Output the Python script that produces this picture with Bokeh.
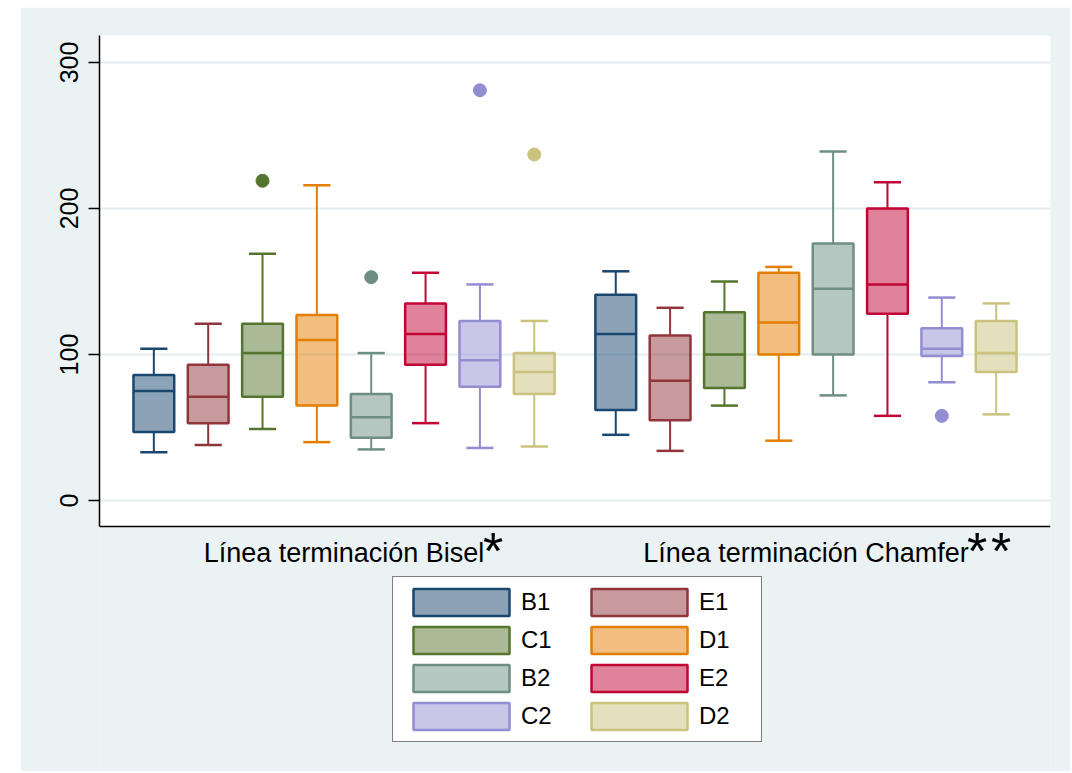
from bokeh.plotting import figure
from bokeh.models import (ColumnDataSource, FixedTicker, LinearAxis, Legend, LegendItem,
                          Label, Range1d, Spacer, Span, BoxAnnotation, Grid)
from bokeh.layouts import row, column
from bokeh.embed import file_html
from bokeh.resources import INLINE

# ---------------- data ----------------
groups = ["Línea terminación Bisel", "Línea terminación Chamfer"]
group_marks = [["*"], ["*", "*"]]
series = ["B1", "E1", "C1", "D1", "B2", "E2", "C2", "D2"]
line_colors = ["#1a476f", "#90353b", "#55752f", "#e37e00",
               "#6e8e84", "#c10534", "#938dd2", "#cac27e"]

# per series: [Bisel, Chamfer]
w_low = {"B1": [33, 45], "E1": [38, 34], "C1": [49, 65], "D1": [40, 41],
         "B2": [35, 72], "E2": [53, 58], "C2": [36, 81], "D2": [37, 59]}
q1 = {"B1": [47, 62], "E1": [53, 55], "C1": [71, 77], "D1": [65, 100],
      "B2": [43, 100], "E2": [93, 128], "C2": [78, 99], "D2": [73, 88]}
med = {"B1": [75, 114], "E1": [71, 82], "C1": [101, 100], "D1": [110, 122],
       "B2": [57, 145], "E2": [114, 148], "C2": [96, 104], "D2": [88, 101]}
q3 = {"B1": [86, 141], "E1": [93, 113], "C1": [121, 129], "D1": [127, 156],
      "B2": [73, 176], "E2": [135, 200], "C2": [123, 118], "D2": [101, 123]}
w_high = {"B1": [104, 157], "E1": [121, 132], "C1": [169, 150], "D1": [216, 160],
          "B2": [101, 239], "E2": [156, 218], "C2": [148, 139], "D2": [123, 135]}
# outliers: (series, group index, value)
out_series = ["C1", "B2", "C2", "D2", "C2"]
out_group = [0, 0, 0, 0, 1]
out_value = [219, 153, 281, 237, 58]

y_ticks = [0, 100, 200, 300]

# ---------------- layout ----------------
group_offset = [0.0, 8.5]
box_w = 0.75
cap_w = 0.5
Y_TOP = 318.5
Y_AXIS_BOTTOM = -17.8
Y_CANVAS_BOTTOM = -185.6

BG = "#eaf2f3"
FONT = "Liberation Sans"

p = figure(width=1050, height=764, output_backend="svg", toolbar_location=None,
           x_range=Range1d(0, 17.5), y_range=Range1d(Y_CANVAS_BOTTOM, Y_TOP),
           min_border_left=79, min_border_right=20, min_border_top=28, min_border_bottom=0,
           x_axis_location=None, y_axis_location=None)
p.border_fill_color = BG
p.background_fill_color = BG
p.outline_line_color = None
p.xgrid.visible = False
p.ygrid.visible = False

# white plot region above the x axis line
p.add_layout(BoxAnnotation(bottom=Y_AXIS_BOTTOM, fill_color="white", fill_alpha=1,
                           line_color=None, level="underlay"))

p.add_layout(Grid(dimension=1, ticker=FixedTicker(ticks=y_ticks),
                  grid_line_color="#e3edef", grid_line_width=2))

yaxis = LinearAxis(ticker=FixedTicker(ticks=y_ticks), bounds=(Y_AXIS_BOTTOM, Y_TOP))
yaxis.major_label_orientation = "vertical"
yaxis.major_label_text_font = FONT
yaxis.major_label_text_font_size = "25px"
yaxis.major_label_text_color = "black"
yaxis.major_label_standoff = 10
yaxis.major_tick_out = 11
yaxis.major_tick_in = 0
yaxis.major_tick_line_color = "black"
yaxis.major_tick_line_width = 1.5
yaxis.minor_tick_line_color = None
yaxis.axis_line_color = "black"
yaxis.axis_line_width = 1.5
p.add_layout(yaxis, "left")

# x axis line
p.add_layout(Span(location=Y_AXIS_BOTTOM, dimension="width", line_color="black",
                  line_width=1.5))

legend_items = []
for i, s in enumerate(series):
    col = line_colors[i]
    xs = [i + 1 + group_offset[g] for g in range(2)]
    src = ColumnDataSource(dict(
        x=xs, q1=q1[s], q3=q3[s], med=med[s], lo=w_low[s], hi=w_high[s],
        x0=[x - box_w / 2 for x in xs], x1=[x + box_w / 2 for x in xs],
        c0=[x - cap_w / 2 for x in xs], c1=[x + cap_w / 2 for x in xs]))
    p.segment(x0="x", y0="q3", x1="x", y1="hi", source=src, line_color=col, line_width=2)
    p.segment(x0="x", y0="q1", x1="x", y1="lo", source=src, line_color=col, line_width=2)
    p.segment(x0="c0", y0="hi", x1="c1", y1="hi", source=src, line_color=col, line_width=2.5)
    p.segment(x0="c0", y0="lo", x1="c1", y1="lo", source=src, line_color=col, line_width=2.5)
    r = p.vbar(x="x", width=box_w, top="q3", bottom="q1", source=src,
               fill_color=col, fill_alpha=0.5, line_color=col, line_width=2.5)
    p.segment(x0="x0", y0="med", x1="x1", y1="med", source=src, line_color=col, line_width=2.5)
    legend_items.append(LegendItem(label=s, renderers=[r]))

# outliers
ox = [series.index(s) + 1 + group_offset[g] for s, g in zip(out_series, out_group)]
oc = [line_colors[series.index(s)] for s in out_series]
p.scatter(x=ox, y=out_value, size=13, fill_color=oc, line_color=oc, marker="circle")

# group labels (below the axis) with superscript marks
centers = [4.5, 13.0]
label_y = -35.7
mark_offsets = [[139], [161, 185]]
for c, g, marks, offs in zip(centers, groups, group_marks, mark_offsets):
    p.add_layout(Label(x=c, y=label_y, text=g, text_font=FONT, text_font_size="27px",
                       text_color="black", text_align="center", text_baseline="alphabetic"))
    for m, off in zip(marks, offs):
        p.add_layout(Label(x=c, y=label_y, x_offset=off, y_offset=2, text=m,
                           text_font=FONT, text_font_size="52px", text_color="black",
                           text_align="left", text_baseline="alphabetic"))

legend = Legend(items=legend_items, location=(293, 29), ncols=2, orientation="horizontal")
legend.label_text_font = FONT
legend.label_text_font_size = "24px"
legend.label_text_color = "black"
legend.glyph_width = 120
legend.glyph_height = 34
legend.label_standoff = 0
legend.label_width = 54
legend.label_height = 34
legend.spacing = 4
legend.padding = 8
legend.margin = 0
legend.border_line_color = "black"
legend.border_line_width = 1.5
legend.background_fill_color = "white"
legend.background_fill_alpha = 1
p.add_layout(legend, "center")

layout = column(Spacer(width=1070, height=7), row(Spacer(width=20, height=764), p))
open("out.html", "w").write(file_html(layout, INLINE))
